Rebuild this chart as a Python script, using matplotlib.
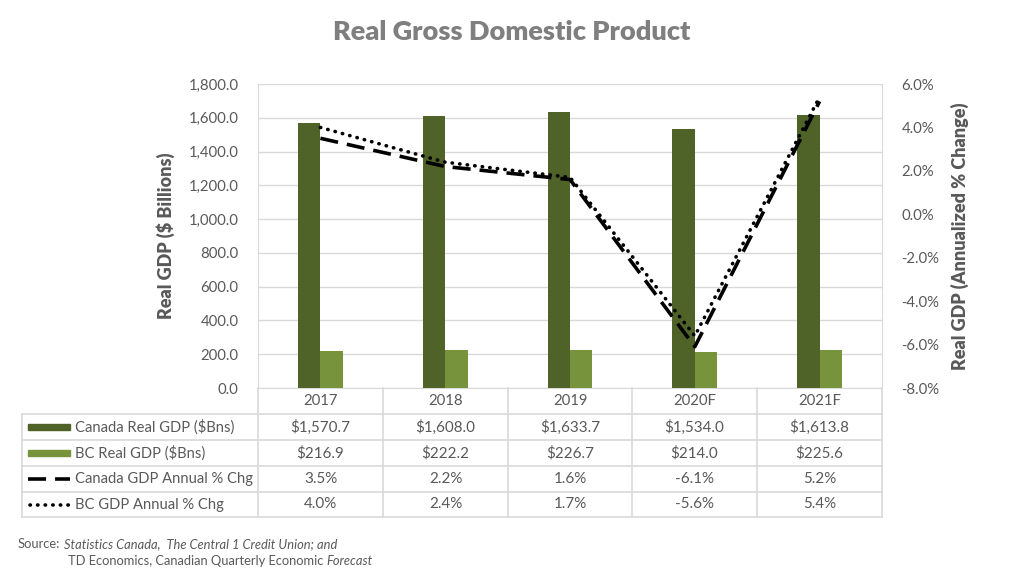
import matplotlib.pyplot as plt
from matplotlib.lines import Line2D
from matplotlib.patches import Rectangle

plt.rcParams['font.family'] = ['Lato', 'DejaVu Sans']

years = ["2017", "2018", "2019", "2020F", "2021F"]
canada_gdp = [1570.7, 1608.0, 1633.7, 1534.0, 1613.8]
bc_gdp = [216.9, 222.2, 226.7, 214.0, 225.6]
canada_chg = [3.5, 2.2, 1.6, -6.1, 5.2]
bc_chg = [4.0, 2.4, 1.7, -5.6, 5.4]

row_labels = ["Canada Real GDP ($Bns)", "BC Real GDP ($Bns)",
              "Canada GDP Annual % Chg", "BC GDP Annual % Chg"]

dark_green = "#4F6228"
light_green = "#77933C"
grey_text = "#595959"
grid_col = "#D9D9D9"

W, H = 1024, 574
fig = plt.figure(figsize=(W / 100, H / 100), dpi=100)


def fx(px):
    return px / W


def fy(py):
    return 1 - py / H


ax_l, ax_r, ax_t, ax_b = 258, 882, 84, 388
ax = fig.add_axes([fx(ax_l), fy(ax_b), fx(ax_r - ax_l), fy(ax_t) - fy(ax_b)])
ax2 = ax.twinx()

dash_style = (0, (5, 2.5))
dot_style = (0, (0.1, 2.0))

x = list(range(len(years)))
bw = 0.18
ax.bar([i - bw / 2 for i in x], canada_gdp, bw, color=dark_green, zorder=3)
ax.bar([i + bw / 2 for i in x], bc_gdp, bw, color=light_green, zorder=3)
ax.set_xlim(-0.5, len(years) - 0.5)
ax.set_ylim(0, 1800)
ax.set_yticks(range(0, 1801, 200))
ax.set_yticklabels([f"{v:,.1f}" for v in range(0, 1801, 200)])
ax.yaxis.grid(True, color=grid_col, linewidth=1, zorder=0)
ax.set_axisbelow(True)
ax.set_xticks(x)
ax.set_xticklabels(years)

ax2.plot(x, canada_chg, color="black", linewidth=2.6, linestyle=dash_style, zorder=4)
ax2.plot(x, bc_chg, color="black", linewidth=2.6, linestyle=dot_style,
         dash_capstyle="round", zorder=4)
ax2.set_ylim(-8, 6)
ax2.set_yticks(range(-8, 7, 2))
ax2.set_yticklabels([f"{v:.1f}%" for v in range(-8, 7, 2)])

for a in (ax, ax2):
    for s in a.spines.values():
        s.set_visible(False)
    a.tick_params(length=0, colors=grey_text, labelsize=10.7)
ax.tick_params(axis="y", pad=14)
ax2.tick_params(axis="y", pad=14)
ax.tick_params(axis="x", pad=4)
ax.spines["left"].set_visible(True)
ax.spines["left"].set_color(grid_col)
ax.spines["bottom"].set_visible(True)
ax.spines["bottom"].set_color(grid_col)
ax2.spines["right"].set_visible(True)
ax2.spines["right"].set_color(grid_col)

ax.set_ylabel("Real GDP ($ Billions)", color=grey_text, fontsize=13,
              fontweight="heavy", labelpad=10)
ax2.set_ylabel("Real GDP (Annualized % Change)", color=grey_text, fontsize=13,
               fontweight="heavy", labelpad=8)

fig.text(0.5, fy(32), "Real Gross Domestic Product", ha="center", va="center",
         fontsize=19.5, fontweight="heavy", color="#7F7F7F")

# data table below the axis
col_x = [258, 383, 508, 632, 757, 882]
row_y = [414, 440, 466, 492, 517]
tbl_left = 22


def hline(y, x0, x1):
    fig.add_artist(Line2D([fx(x0), fx(x1)], [fy(y), fy(y)], color=grid_col, lw=1.2))


def vline(xp, y0, y1):
    fig.add_artist(Line2D([fx(xp), fx(xp)], [fy(y0), fy(y1)], color=grid_col, lw=1.2))


for y in row_y:
    hline(y, tbl_left, col_x[-1])
vline(tbl_left, row_y[0], row_y[-1])
for xp in col_x:
    vline(xp, ax_b, row_y[-1])

table_vals = [
    [f"${v:,.1f}" for v in canada_gdp],
    [f"${v:,.1f}" for v in bc_gdp],
    [f"{v:.1f}%" for v in canada_chg],
    [f"{v:.1f}%" for v in bc_chg],
]

for r in range(4):
    yc = (row_y[r] + row_y[r + 1]) / 2
    fig.text(fx(75), fy(yc), row_labels[r], ha="left", va="center",
             fontsize=10.6, color=grey_text)
    for c in range(5):
        xc = (col_x[c] + col_x[c + 1]) / 2
        fig.text(fx(xc), fy(yc), table_vals[r][c], ha="center", va="center",
                 fontsize=10.9, color=grey_text)

# legend keys
key_x0, key_x1 = 28, 70
for r, col in enumerate([dark_green, light_green]):
    yc = (row_y[r] + row_y[r + 1]) / 2
    fig.add_artist(Rectangle((fx(key_x0), fy(yc + 3)), fx(key_x1 - key_x0), fy(yc - 3) - fy(yc + 3),
                             transform=fig.transFigure, color=col))
yc = (row_y[2] + row_y[3]) / 2
fig.add_artist(Line2D([fx(key_x0), fx(key_x1)], [fy(yc), fy(yc)], color="black", lw=2.6,
                      linestyle=dash_style))
yc = (row_y[3] + row_y[4]) / 2
fig.add_artist(Line2D([fx(key_x0 + 2), fx(key_x1)], [fy(yc), fy(yc)], color="black", lw=2.6,
                      linestyle=dot_style, dash_capstyle="round"))

# source note
fig.text(fx(18), fy(544), "Source:", fontsize=9.3, color=grey_text, va="center")
fig.text(fx(64), fy(544), "Statistics Canada,  The Central 1 Credit Union; and",
         fontsize=9.3, color=grey_text, va="center", style="italic")
t = fig.text(fx(68), fy(561), "TD Economics, Canadian Quarterly Economic ",
             fontsize=9.3, color=grey_text, va="center")
fig.canvas.draw()
bb = t.get_window_extent()
fig.text(bb.x1 / W, fy(561), "Forecast", fontsize=9.3, color=grey_text, va="center",
         style="italic")

fig.savefig("out.png", dpi=100)
